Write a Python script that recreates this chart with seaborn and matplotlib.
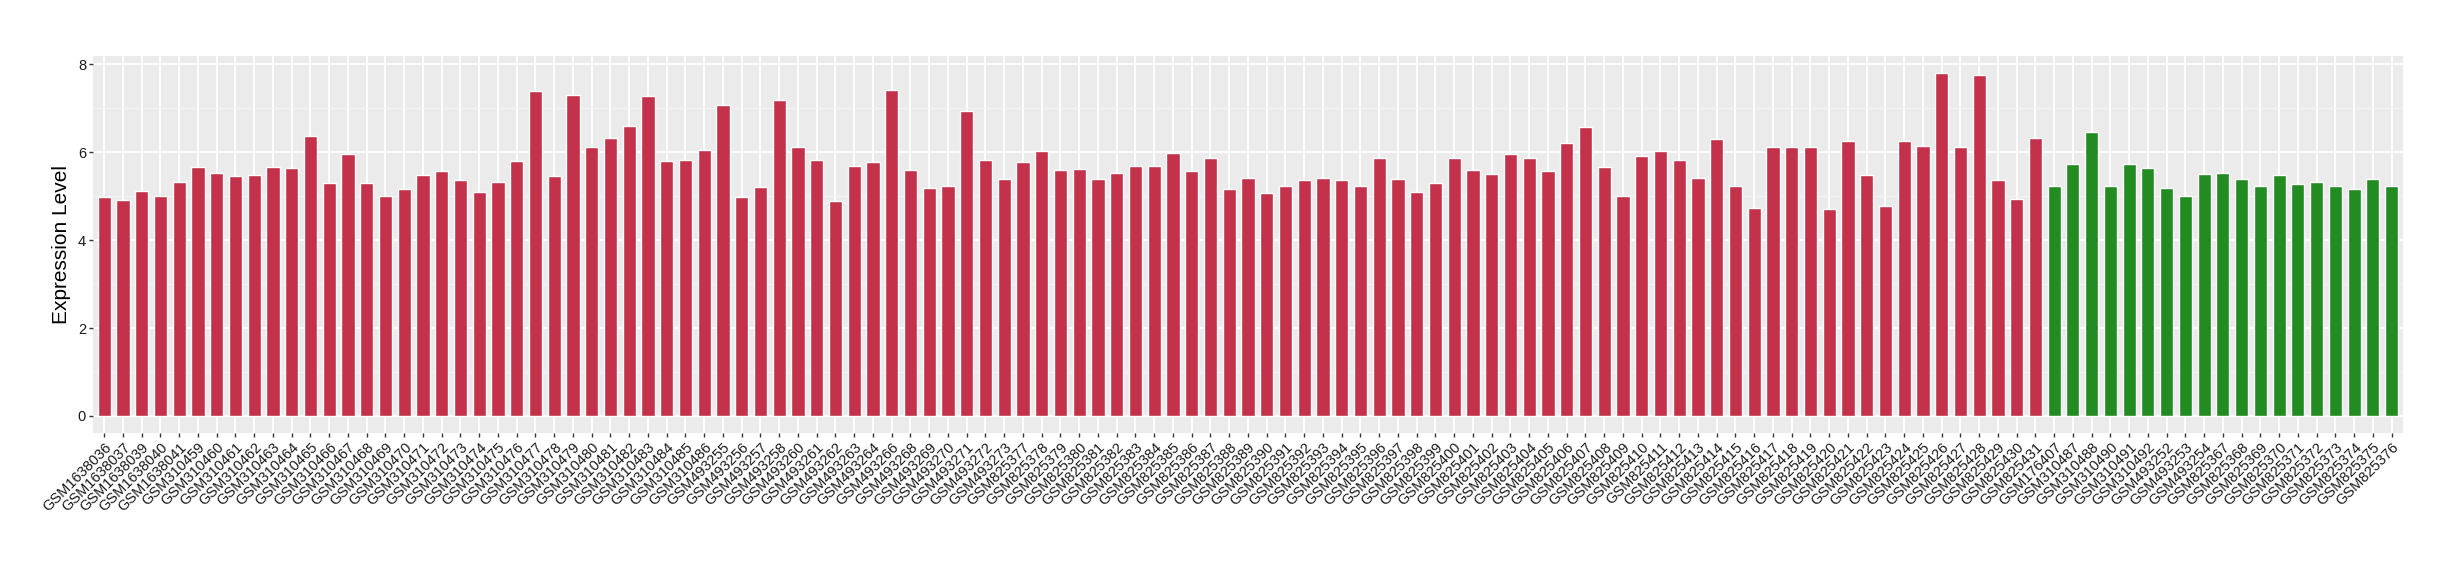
import pandas as pd
import matplotlib.pyplot as plt
from matplotlib.ticker import MultipleLocator
import seaborn as sns

# 样本名与表达量（红色组）
red_samples = [
    'GSM1638036', 'GSM1638037', 'GSM1638039', 'GSM1638040', 'GSM1638041',
    'GSM310459', 'GSM310460', 'GSM310461', 'GSM310462', 'GSM310463',
    'GSM310464', 'GSM310465', 'GSM310466', 'GSM310467', 'GSM310468',
    'GSM310469', 'GSM310470', 'GSM310471', 'GSM310472', 'GSM310473',
    'GSM310474', 'GSM310475', 'GSM310476', 'GSM310477', 'GSM310478',
    'GSM310479', 'GSM310480', 'GSM310481', 'GSM310482', 'GSM310483',
    'GSM310484', 'GSM310485', 'GSM310486', 'GSM493255', 'GSM493256',
    'GSM493257', 'GSM493258', 'GSM493260', 'GSM493261', 'GSM493262',
    'GSM493263', 'GSM493264', 'GSM493266', 'GSM493268', 'GSM493269',
    'GSM493270', 'GSM493271', 'GSM493272', 'GSM493273', 'GSM825377',
    'GSM825378', 'GSM825379', 'GSM825380', 'GSM825381', 'GSM825382',
    'GSM825383', 'GSM825384', 'GSM825385', 'GSM825386', 'GSM825387',
    'GSM825388', 'GSM825389', 'GSM825390', 'GSM825391', 'GSM825392',
    'GSM825393', 'GSM825394', 'GSM825395', 'GSM825396', 'GSM825397',
    'GSM825398', 'GSM825399', 'GSM825400', 'GSM825401', 'GSM825402',
    'GSM825403', 'GSM825404', 'GSM825405', 'GSM825406', 'GSM825407',
    'GSM825408', 'GSM825409', 'GSM825410', 'GSM825411', 'GSM825412',
    'GSM825413', 'GSM825414', 'GSM825415', 'GSM825416', 'GSM825417',
    'GSM825418', 'GSM825419', 'GSM825420', 'GSM825421', 'GSM825422',
    'GSM825423', 'GSM825424', 'GSM825425', 'GSM825426', 'GSM825427',
    'GSM825428', 'GSM825429', 'GSM825430', 'GSM825431',
]
red_values = [
    4.98, 4.92, 5.11, 5.01, 5.33, 5.67, 5.53, 5.45, 5.48, 5.67,
    5.64, 6.37, 5.29, 5.97, 5.31, 5.01, 5.16, 5.48, 5.58, 5.36,
    5.09, 5.33, 5.80, 7.40, 5.46, 7.31, 6.11, 6.33, 6.59, 7.27,
    5.80, 5.82, 6.04, 7.07, 4.98, 5.20, 7.20, 6.11, 5.82, 4.89,
    5.69, 5.77, 7.42, 5.60, 5.18, 5.24, 6.94, 5.82, 5.38, 5.77,
    6.02, 5.60, 5.62, 5.38, 5.53, 5.69, 5.69, 5.99, 5.58, 5.86,
    5.16, 5.42, 5.07, 5.24, 5.36, 5.42, 5.36, 5.23, 5.86, 5.40,
    5.09, 5.31, 5.86, 5.60, 5.51, 5.97, 5.86, 5.58, 6.21, 6.57,
    5.67, 5.01, 5.92, 6.02, 5.82, 5.42, 6.30, 5.23, 4.72, 6.11,
    6.13, 6.13, 4.70, 6.26, 5.48, 4.77, 6.26, 6.14, 7.80, 6.13,
    7.75, 5.36, 4.94, 6.33,
]

# 绿色组
green_samples = [
    'GSM176407', 'GSM310487', 'GSM310488', 'GSM310490', 'GSM310491',
    'GSM310492', 'GSM493252', 'GSM493253', 'GSM493254', 'GSM825367',
    'GSM825368', 'GSM825369', 'GSM825370', 'GSM825371', 'GSM825372',
    'GSM825373', 'GSM825374', 'GSM825375', 'GSM825376',
]
green_values = [
    5.24, 5.73, 6.45, 5.23, 5.73, 5.64, 5.18, 5.01, 5.51, 5.53,
    5.38, 5.24, 5.48, 5.27, 5.33, 5.24, 5.16, 5.38, 5.24,
]

group_colors = {'red': '#C3324A', 'green': '#228B22'}


def main():
    df = pd.DataFrame({
        'Sample': red_samples + green_samples,
        'Expression': red_values + green_values,
        'Group': ['red'] * len(red_samples) + ['green'] * len(green_samples),
    })

    # ggplot 风格的灰色背景
    sns.set_theme(style="darkgrid", rc={
        'axes.facecolor': '#EBEBEB',
        'grid.color': 'white',
        'xtick.bottom': True,
        'ytick.left': True,
        'xtick.color': '#333333',
        'ytick.color': '#333333',
        'xtick.major.size': 3,
        'ytick.major.size': 3,
        'xtick.major.width': 1.0,
        'ytick.major.width': 1.0,
    })
    plt.rcParams['font.family'] = ['Liberation Sans', 'DejaVu Sans']

    fig = plt.figure(figsize=(24.6, 5.8), dpi=100)
    ax = fig.add_axes([0.0378, 0.2534, 0.939, 0.65])

    sns.barplot(data=df, x='Sample', y='Expression', hue='Group',
                palette=group_colors, dodge=False, width=0.7,
                saturation=1, legend=False, ax=ax)

    n = len(df)
    ax.set_xlim(-0.6, n - 1 + 0.6)
    ax.set_ylim(-0.39, 8.19)
    ax.yaxis.set_major_locator(MultipleLocator(2))
    ax.yaxis.set_minor_locator(MultipleLocator(1))
    ax.grid(True, which='major', color='white', linewidth=1.3)
    ax.grid(True, which='minor', axis='y', color='#F4F4F4', linewidth=0.7)
    ax.tick_params(axis='y', which='minor', left=False)

    for s in ax.spines.values():
        s.set_visible(False)

    plt.setp(ax.get_xticklabels(), rotation=45, ha='right',
             rotation_mode='anchor', fontsize=10.5, color='#1a1a1a')
    plt.setp(ax.get_yticklabels(), fontsize=10.5, color='#1a1a1a')
    ax.tick_params(axis='x', pad=2)
    ax.tick_params(axis='y', pad=2)

    ax.set_xlabel('')
    ax.set_ylabel('Expression Level', fontsize=15, labelpad=5, color='black')

    fig.savefig('out.png', dpi=100)
    plt.close(fig)


if __name__ == "__main__":
    main()
